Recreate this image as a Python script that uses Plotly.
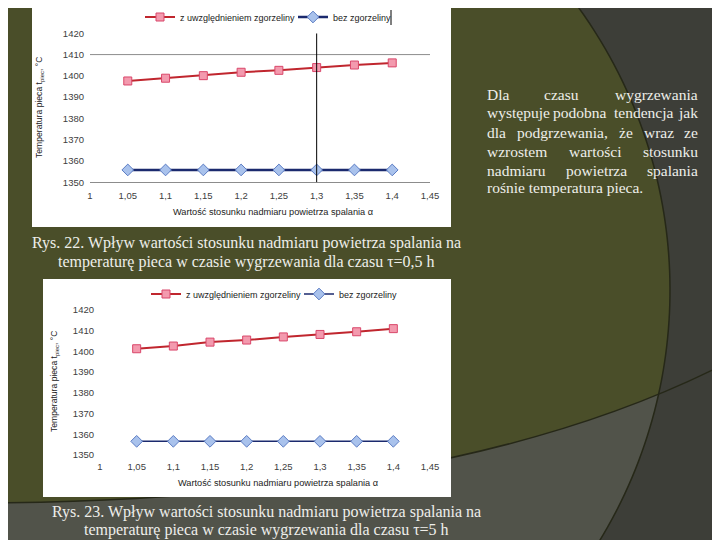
import numpy as np
import plotly.graph_objects as go

# ---------------- data ----------------
alpha = [1.05, 1.1, 1.15, 1.2, 1.25, 1.3, 1.35, 1.4]
t_z_05 = [1397.6, 1398.9, 1400.1, 1401.7, 1402.6, 1403.9, 1405.1, 1406.1]
t_bez_05 = [1355.8, 1355.8, 1355.8, 1355.8, 1355.8, 1355.8, 1355.8, 1355.8]
t_z_5 = [1401.3, 1402.6, 1404.5, 1405.5, 1407.0, 1408.2, 1409.5, 1411.0]
t_bez_5 = [1356.6, 1356.6, 1356.6, 1356.6, 1356.6, 1356.6, 1356.6, 1356.6]

x_tickvals = [1.0, 1.05, 1.1, 1.15, 1.2, 1.25, 1.3, 1.35, 1.4, 1.45]
x_ticktext = ["1", "1,05", "1,1", "1,15", "1,2", "1,25", "1,3", "1,35", "1,4", "1,45"]
y_tickvals = [1350, 1360, 1370, 1380, 1390, 1400, 1410, 1420]
y_ticktext = ["1350", "1360", "1370", "1380", "1390", "1400", "1410", "1420"]

name_z = "z uwzględnieniem zgorzeliny"
name_bez = "bez zgorzeliny"

# ---------------- helpers ----------------
W, H = 720, 540
OFF = 8  # page offset of the figure in the browser window
def px(x):
    return (x - OFF) / W
def py(y):
    return 1 - (y - OFF) / H
def pt(x, y):
    return f"{px(x):.5f},{py(y):.5f}"

OLIVE = "#4a4e29"
DARK = "#3d3e38"
MID = "#51534a"
EDGE = "#262818"

SANS = "Liberation Sans"
SERIF = "Liberation Serif"

fig = go.Figure()

red_line = "#c0262e"
red_fill = "#f39aae"
red_edge = "#d9476a"
blue_line = "#1b2a6e"
blue_fill = "#a9c2ec"
blue_edge = "#5b7cc4"

fig.add_trace(go.Scatter(x=alpha, y=t_z_05, name=name_z, mode="lines+markers",
                         line=dict(color=red_line, width=2),
                         marker=dict(symbol="square", size=8, color=red_fill,
                                     line=dict(color=red_edge, width=1)),
                         xaxis="x", yaxis="y", legend="legend"))
fig.add_trace(go.Scatter(x=alpha, y=t_bez_05, name=name_bez, mode="lines+markers",
                         line=dict(color=blue_line, width=2.5),
                         marker=dict(symbol="diamond", size=9, color=blue_fill,
                                     line=dict(color=blue_edge, width=1)),
                         xaxis="x", yaxis="y", legend="legend2"))
fig.add_trace(go.Scatter(x=alpha, y=t_z_5, name=name_z, mode="lines+markers",
                         line=dict(color=red_line, width=2),
                         marker=dict(symbol="square", size=8, color=red_fill,
                                     line=dict(color=red_edge, width=1)),
                         xaxis="x2", yaxis="y2", legend="legend3"))
fig.add_trace(go.Scatter(x=alpha, y=t_bez_5, name=name_bez, mode="lines+markers",
                         line=dict(color=blue_line, width=1.5),
                         marker=dict(symbol="diamond", size=9, color=blue_fill,
                                     line=dict(color=blue_edge, width=1)),
                         xaxis="x2", yaxis="y2", legend="legend4"))

tickfont = dict(family=SANS, size=9.5, color="#404040")

def xax(domain, anchor, showline):
    return dict(domain=domain, anchor=anchor, range=[1.0, 1.45],
                tickvals=x_tickvals, ticktext=x_ticktext, showgrid=False,
                zeroline=False, showline=showline, linecolor="#8c8c8c", linewidth=1,
                ticks="", tickfont=tickfont, ticklabelstandoff=4, fixedrange=True,
                automargin=False)

def yax(domain, anchor):
    return dict(domain=domain, anchor=anchor, range=[1350, 1420],
                tickvals=y_tickvals, ticktext=y_ticktext, showgrid=False,
                zeroline=False, showline=False, ticks="", tickfont=tickfont,
                ticklabelstandoff=5, fixedrange=True, automargin=False)

shapes = []
# lower mid-grey band
shapes.append(dict(type="path", xref="paper", yref="paper", layer="below",
                   path=f"M {pt(-10,503)} Q {pt(470,500)} {pt(740,356)} L {pt(740,560)} L {pt(-10,560)} Z",
                   fillcolor=MID, line=dict(width=0)))
# dark region outside big arc
cx, cy, r = 188.0, 290.0, 482.0
ys = np.linspace(-10, 560, 70)
xs = cx + np.sqrt(r ** 2 - (ys - cy) ** 2)
arc = " L ".join(pt(a, b) for a, b in zip(xs, ys))
shapes.append(dict(type="path", xref="paper", yref="paper", layer="below",
                   path=f"M {arc} L {pt(740,560)} L {pt(740,-10)} Z",
                   fillcolor=DARK, line=dict(width=0)))
shapes.append(dict(type="path", xref="paper", yref="paper", layer="below",
                   path=f"M {arc}", line=dict(color=EDGE, width=1.5)))
shapes.append(dict(type="path", xref="paper", yref="paper", layer="below",
                   path=f"M {pt(-10,503)} Q {pt(470,500)} {pt(740,356)}",
                   line=dict(color=EDGE, width=1.5)))
# white chart boxes
shapes.append(dict(type="rect", xref="paper", yref="paper", layer="below",
                   x0=px(32), x1=px(451), y0=py(227), y1=py(2),
                   fillcolor="white", line=dict(width=0)))
shapes.append(dict(type="rect", xref="paper", yref="paper", layer="below",
                   x0=px(43), x1=px(451), y0=py(497), y1=py(279),
                   fillcolor="white", line=dict(width=0)))
# chart 1 gridline and vertical marker line
shapes.append(dict(type="line", xref="x", yref="y", x0=1.0, x1=1.45, y0=1410, y1=1410,
                   line=dict(color="#8c8c8c", width=1), layer="below"))
shapes.append(dict(type="line", xref="x", yref="y", x0=1.3, x1=1.3, y0=1350, y1=1420,
                   line=dict(color="black", width=1)))
shapes.append(dict(type="line", xref="paper", yref="paper", x0=px(391), x1=px(391),
                   y0=py(25), y1=py(10), line=dict(color="black", width=1)))

ann = []

def add_text(text, x, y, xanchor, size, color, family, angle=0):
    ann.append(dict(text=text, x=px(x), y=py(y), xref="paper", yref="paper",
                    xanchor=xanchor, yanchor="middle", showarrow=False, textangle=angle,
                    font=dict(family=family, size=size, color=color)))

# axis titles
AX = "#222222"
add_text("Wartość stosunku nadmiaru powietrza spalania α", 273, 212, "center", 9.2, AX, SANS)
add_text("Wartość stosunku nadmiaru powietrza spalania α", 278, 483, "center", 9.2, AX, SANS)
add_text("Temperatura pieca t<sub>piec</sub>, °C", 40, 108, "center", 8.6, AX, SANS, -90)
add_text("Temperatura pieca t<sub>piec</sub>, °C", 55, 382, "center", 8.6, AX, SANS, -90)

# captions
TXT = "#eeeeea"
FS = 16
add_text("Rys. 22. Wpływ wartości stosunku nadmiaru powietrza spalania na", 246, 243, "center", FS, TXT, SERIF)
add_text("temperaturę pieca w czasie wygrzewania dla czasu τ=0,5 h", 246, 262, "center", FS, TXT, SERIF)
add_text("Rys. 23. Wpływ wartości stosunku nadmiaru powietrza spalania na", 266, 512, "center", FS, TXT, SERIF)
add_text("temperaturę pieca w czasie wygrzewania dla czasu τ=5 h", 266, 530, "center", FS, TXT, SERIF)

# justified paragraph (word by word)
PFS = 15.5
para = [
    (95, [("Dla", 485, "left"), ("czasu", 561, "center"), ("wygrzewania", 700, "right")]),
    (113, [("występuje", 485, "left"), ("podobna", 580, "center"), ("tendencja", 644, "center"), ("jak", 700, "right")]),
    (132, [("dla", 485, "left"), ("podgrzewania,", 515, "left"), ("że", 626, "center"), ("wraz", 659, "center"), ("ze", 700, "right")]),
    (152, [("wzrostem", 485, "left"), ("wartości", 595, "center"), ("stosunku", 700, "right")]),
    (170, [("nadmiaru", 485, "left"), ("powietrza", 596, "center"), ("spalania", 700, "right")]),
    (188, [("rośnie temperatura pieca.", 485, "left")]),
]
for yy, words in para:
    for w, xx, anc in words:
        add_text(w, xx, yy, anc, PFS, TXT, SERIF)

legfont = dict(family=SANS, size=9, color="#222222")
def leg(x, y):
    return dict(orientation="h", x=px(x), y=py(y), xanchor="left", yanchor="middle",
                xref="paper", yref="paper", bgcolor="rgba(0,0,0,0)", font=legfont,
                itemwidth=30, tracegroupgap=0)

fig.update_layout(
    width=W, height=H, margin=dict(l=0, r=0, t=0, b=0, autoexpand=False),
    paper_bgcolor=OLIVE, plot_bgcolor="rgba(0,0,0,0)",
    xaxis=xax([px(90), px(430)], "y", True),
    yaxis=yax([py(182.3), py(33.3)], "x"),
    xaxis2=xax([px(100), px(430)], "y2", False),
    yaxis2=yax([py(455), py(310)], "x2"),
    legend=leg(140, 17), legend2=leg(293, 17),
    legend3=leg(146, 294), legend4=leg(299, 294),
    shapes=shapes, annotations=ann, showlegend=True,
)

fig.write_html("out.html")
